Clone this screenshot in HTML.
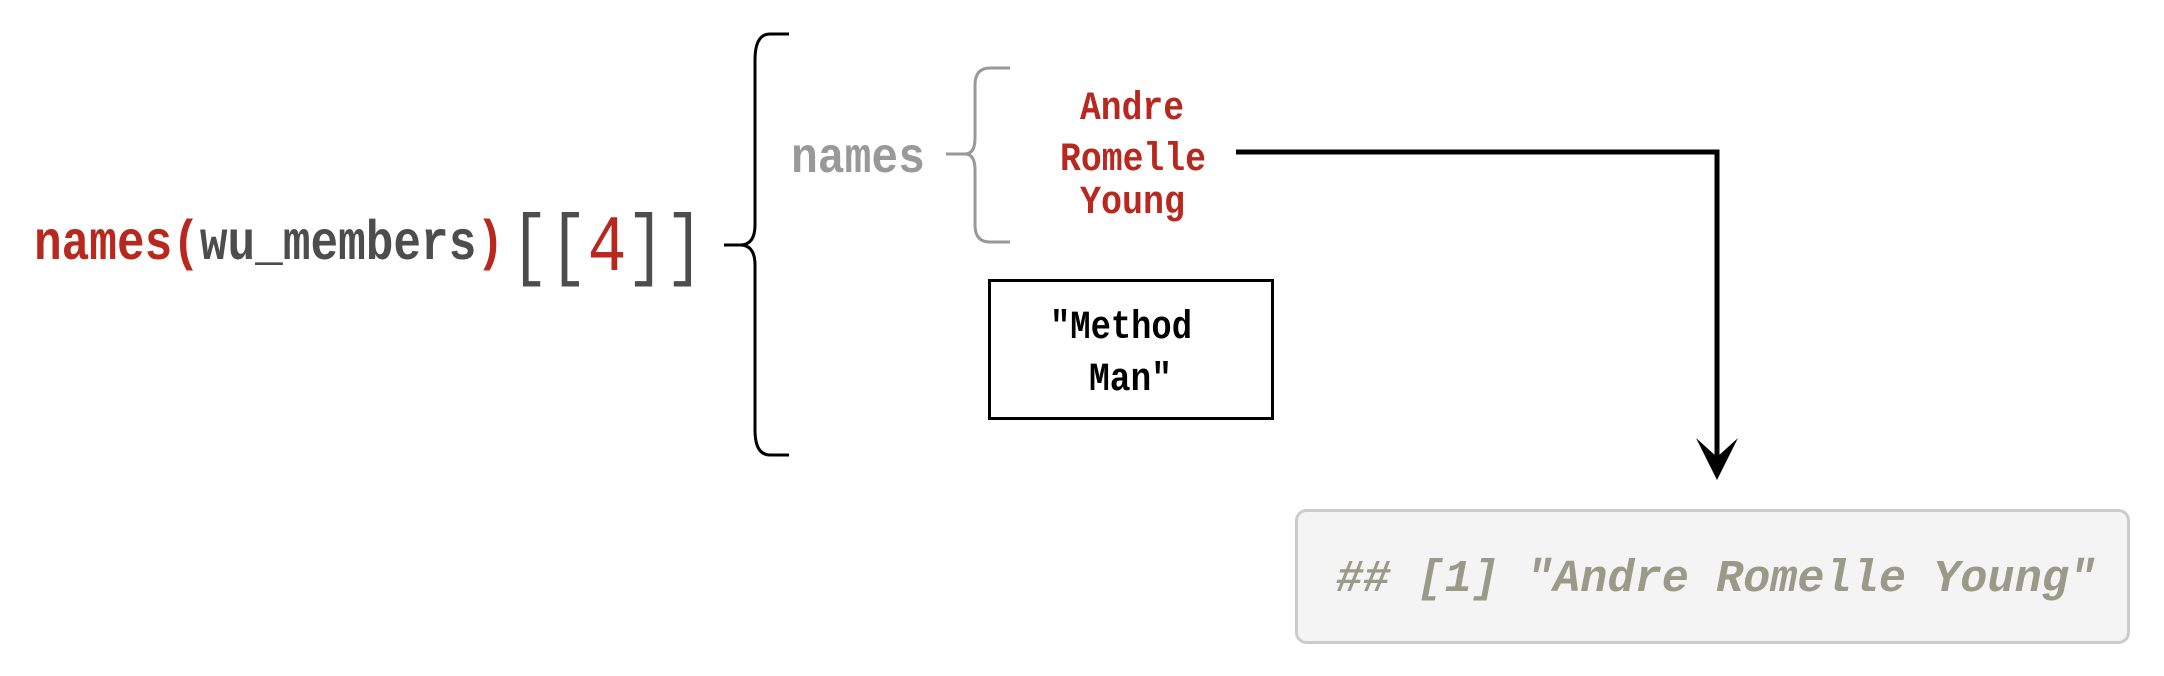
<!DOCTYPE html>
<html><head><meta charset="utf-8"><style>
html,body{margin:0;padding:0;background:#fff;}
svg{display:block;}
text{font-family:"Liberation Mono","DejaVu Sans Mono",monospace;font-weight:bold;}
</style></head><body>
<svg width="2164" height="676" viewBox="0 0 2164 676" xmlns="http://www.w3.org/2000/svg">
<text x="34" y="259" font-size="56" textLength="470" lengthAdjust="spacingAndGlyphs"><tspan fill="#b8281e">names(</tspan><tspan fill="#4d4d4d">wu_members</tspan><tspan fill="#b8281e">)</tspan></text>
<text x="510" y="270" font-size="80" style="font-weight:normal" textLength="194" lengthAdjust="spacingAndGlyphs"><tspan fill="#4d4d4d">[[</tspan><tspan fill="#b8281e">4</tspan><tspan fill="#4d4d4d">]]</tspan></text>
<path d="M789 34 H770 Q755 34 755 60 V225 Q755 245 740 245 H724 M740 245 Q755 245 755 265 V430 Q755 455 770 455 H789" fill="none" stroke="#000" stroke-width="3"/>
<text x="791" y="172" font-size="50" fill="#999" textLength="134" lengthAdjust="spacingAndGlyphs">names</text>
<path d="M1010 68 H990 Q975 68 975 85 V138 Q975 154 965 154 H946 M965 154 Q975 154 975 170 V225 Q975 242 990 242 H1010" fill="none" stroke="#999" stroke-width="3"/>
<g fill="#b8281e" font-size="40">
<text x="1080" y="119" textLength="104" lengthAdjust="spacingAndGlyphs">Andre</text>
<text x="1060" y="170" textLength="146" lengthAdjust="spacingAndGlyphs">Romelle</text>
<text x="1080" y="213" textLength="105" lengthAdjust="spacingAndGlyphs">Young</text>
</g>
<rect x="989.5" y="280.5" width="283" height="138" fill="#fff" stroke="#000" stroke-width="3"/>
<text x="1050" y="338" font-size="40" fill="#000" textLength="142" lengthAdjust="spacingAndGlyphs">"Method</text>
<text x="1089" y="390" font-size="40" fill="#000" textLength="83" lengthAdjust="spacingAndGlyphs">Man"</text>
<path d="M1236 152 H1717 V460" fill="none" stroke="#000" stroke-width="5"/>
<path d="M1696 438 L1717 480 L1738 438 L1717 457 Z" fill="#000"/>
<rect x="1296.5" y="510.5" width="832" height="132" rx="10" fill="#f4f4f4" stroke="#ccc" stroke-width="3"/>
<text x="1336" y="591" font-size="45" fill="#9a9a88" font-style="italic" textLength="760" lengthAdjust="spacingAndGlyphs">## [1] "Andre Romelle Young"</text>
</svg>
</body></html>
